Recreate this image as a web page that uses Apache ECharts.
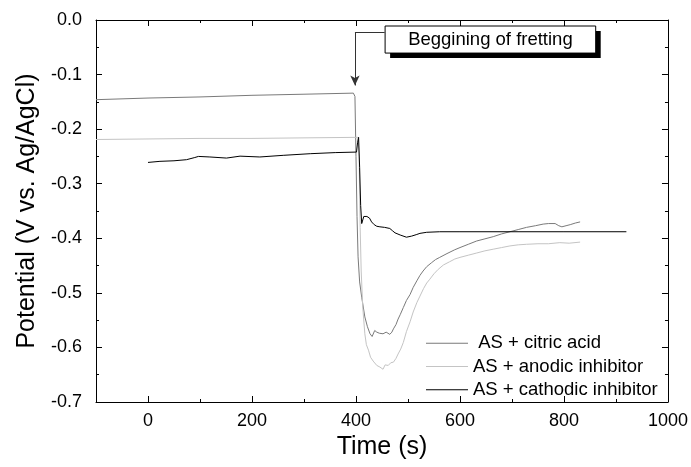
<!DOCTYPE html>
<html>
<head>
<meta charset="utf-8">
<script src="https://cdn.jsdelivr.net/npm/echarts@6/dist/echarts.min.js"></script>
<style>
  html, body { margin: 0; padding: 0; background: #fff; }
  #chart { width: 691px; height: 467px; }
</style>
</head>
<body>
<div id="chart"></div>
<script>
// Open-circuit potential vs. time, before and during fretting
const seriesNames = [' AS + citric acid', 'AS + anodic inhibitor', 'AS + cathodic inhibitor'];

const citricAcid = [
  [-100, -0.146], [0, -0.143], [100, -0.141], [200, -0.138], [300, -0.136], [395, -0.134],
  [398, -0.14], [400, -0.25], [402, -0.36], [404, -0.434], [407, -0.48], [411, -0.508],
  [417, -0.544], [422, -0.562], [427, -0.575], [431, -0.58], [436, -0.569], [440, -0.572],
  [445, -0.574], [452, -0.575], [458, -0.572], [465, -0.576], [469, -0.572], [472, -0.566],
  [477, -0.558], [481, -0.548], [485, -0.54], [491, -0.527], [497, -0.514], [504, -0.503],
  [510, -0.49], [517, -0.478], [523, -0.468], [529, -0.46], [536, -0.452], [545, -0.445],
  [553, -0.439], [561, -0.435], [575, -0.428], [590, -0.421], [600, -0.417], [616, -0.411],
  [632, -0.405], [648, -0.401], [664, -0.397], [680, -0.392], [696, -0.388], [712, -0.384],
  [728, -0.38], [745, -0.377], [760, -0.374], [770, -0.373], [783, -0.373], [790, -0.377],
  [796, -0.379], [804, -0.377], [812, -0.375], [822, -0.372], [831, -0.37]
];

const anodicInhibitor = [
  [-100, -0.219], [0, -0.218], [100, -0.217], [200, -0.217], [300, -0.216], [404, -0.215],
  [406, -0.25], [408, -0.38], [410, -0.46], [413, -0.526], [417, -0.575], [420, -0.595],
  [424, -0.605], [428, -0.618], [433, -0.625], [440, -0.633], [446, -0.636], [452, -0.64],
  [456, -0.632], [462, -0.633], [467, -0.628], [472, -0.627], [477, -0.62], [481, -0.612],
  [486, -0.603], [491, -0.591], [497, -0.571], [504, -0.553], [510, -0.535], [517, -0.518],
  [523, -0.506], [530, -0.492], [536, -0.482], [542, -0.475], [550, -0.465], [558, -0.457],
  [568, -0.449], [580, -0.443], [590, -0.438], [600, -0.435], [616, -0.431], [632, -0.427],
  [648, -0.423], [664, -0.42], [680, -0.417], [696, -0.414], [712, -0.412], [728, -0.411],
  [750, -0.41], [770, -0.41], [792, -0.408], [810, -0.409], [831, -0.407]
];

const cathodicInhibitor = [
  [0, -0.261], [23, -0.259], [50, -0.258], [74, -0.256], [90, -0.252], [97, -0.25],
  [119, -0.251], [151, -0.253], [177, -0.2495], [215, -0.251], [260, -0.248], [312, -0.245],
  [360, -0.243], [401, -0.242], [403, -0.225], [405, -0.215], [407, -0.27], [409, -0.34],
  [411, -0.373], [413, -0.37], [415, -0.36], [417, -0.361], [421, -0.36], [426, -0.363],
  [430, -0.37], [435, -0.375], [440, -0.378], [446, -0.379], [455, -0.38], [465, -0.382],
  [470, -0.386], [475, -0.39], [485, -0.394], [497, -0.398], [507, -0.396], [517, -0.393],
  [523, -0.391], [536, -0.389], [561, -0.388], [600, -0.388], [700, -0.388], [800, -0.388],
  [920, -0.388]
];

const xMajorTicks = [0, 200, 400, 600, 800, 1000];
const xMinorTicks = [-100, 100, 300, 500, 700, 900];
const annotationText = 'Beggining of fretting';
const frettingStart = 398;

const FONT = '"Liberation Sans", Arial, sans-serif';
const black = '#000';

function xAxisLayer(position, tickValues, tickLength, withLine, withLabels) {
  const ax = {
    type: 'value', min: -100, max: 1000, position: position,
    axisLine: { show: withLine, onZero: false, lineStyle: { color: black, width: 1 } },
    axisTick: { show: true, inside: true, length: tickLength, customValues: tickValues,
                lineStyle: { color: black, width: 1 } },
    axisLabel: { show: false },
    splitLine: { show: false }
  };
  if (withLabels) {
    ax.axisLabel = { show: true, customValues: tickValues, fontSize: 18, color: black,
                     fontFamily: FONT, margin: 10, formatter: v => String(v) };
    ax.name = 'Time (s)';
    ax.nameLocation = 'middle';
    ax.nameGap = 31;
    ax.nameTextStyle = { fontSize: 25, color: black, fontFamily: FONT };
  }
  return ax;
}

function yAxisLayer(position, withLabels) {
  const ax = {
    type: 'value', min: -0.7, max: 0, interval: 0.1, position: position,
    axisLine: { show: true, onZero: false, lineStyle: { color: black, width: 1 } },
    axisTick: { show: true, inside: true, length: 6, lineStyle: { color: black, width: 1 } },
    minorTick: { show: true, splitNumber: 2, length: 3, lineStyle: { color: black, width: 1 } },
    axisLabel: { show: false },
    splitLine: { show: false },
    minorSplitLine: { show: false }
  };
  if (withLabels) {
    ax.axisLabel = { show: true, fontSize: 18, color: black, fontFamily: FONT, margin: 14,
                     formatter: v => (Math.abs(v) < 1e-9 ? 0 : v).toFixed(1) };
    ax.name = 'Potential (V vs. Ag/AgCl)';
    ax.nameLocation = 'middle';
    ax.nameGap = 56;
    ax.nameTextStyle = { fontSize: 25, color: black, fontFamily: FONT };
  }
  return ax;
}

function lineSeries(name, data, color) {
  return {
    name: name, type: 'line', data: data, xAxisIndex: 0, yAxisIndex: 0,
    symbol: 'none', showSymbol: false, smooth: false,
    lineStyle: { color: color, width: 1 }, itemStyle: { color: color },
    emphasis: { disabled: true }
  };
}

const chart = echarts.init(document.getElementById('chart'), null, { renderer: 'canvas' });

const citric = lineSeries(seriesNames[0], citricAcid, '#7a7a7a');
citric.markLine = {
  silent: true, animation: false,
  label: { show: false },
  lineStyle: { color: '#333', width: 1, type: 'solid' },
  symbol: ['none', 'none'],
  data: [
    [{ coord: [frettingStart, -0.022] }, { coord: [455, -0.022] }],
    [{ coord: [frettingStart, -0.022], symbol: 'none' },
     { coord: [frettingStart, -0.12], symbol: 'arrow', symbolSize: [7, 10] }]
  ]
};

chart.setOption({
  animation: false,
  backgroundColor: '#fff',
  grid: { left: 96, right: 23, top: 20, bottom: 65 },
  xAxis: [
    xAxisLayer('bottom', xMajorTicks, 6, true, true),
    xAxisLayer('bottom', xMinorTicks, 3, false, false),
    xAxisLayer('top', xMajorTicks, 6, true, false),
    xAxisLayer('top', xMinorTicks, 3, false, false)
  ],
  yAxis: [yAxisLayer('left', true), yAxisLayer('right', false)],
  legend: {
    orient: 'vertical', left: 421, top: 328,
    icon: 'rect', itemWidth: 42, itemHeight: 1, itemGap: 3,
    selectedMode: false,
    textStyle: { fontSize: 18.5, color: black, fontFamily: FONT, lineHeight: 20.3 },
    data: seriesNames
  },
  series: [
    citric,
    lineSeries(seriesNames[1], anodicInhibitor, '#c4c4c4'),
    lineSeries(seriesNames[2], cathodicInhibitor, '#000000')
  ]
});

// Annotation box with a drop shadow, anchored in data space
const boxTL = chart.convertToPixel({ xAxisIndex: 0, yAxisIndex: 0 }, [456, -0.011]);
const boxBR = chart.convertToPixel({ xAxisIndex: 0, yAxisIndex: 0 }, [861, -0.0606]);
const bw = boxBR[0] - boxTL[0];
const bh = boxBR[1] - boxTL[1];
chart.setOption({
  graphic: [
    { type: 'rect', silent: true, z: 100,
      shape: { x: boxTL[0] + 5, y: boxTL[1] + 5, width: bw, height: bh },
      style: { fill: '#000' } },
    { type: 'rect', silent: true, z: 101,
      shape: { x: boxTL[0], y: boxTL[1], width: bw, height: bh },
      style: { fill: '#fff', stroke: '#000', lineWidth: 1 } },
    { type: 'text', silent: true, z: 102,
      x: boxTL[0] + bw / 2, y: boxTL[1] + bh / 2,
      style: { text: annotationText, fontSize: 18.5, fontFamily: FONT, fill: '#000',
               align: 'center', verticalAlign: 'middle' } }
  ]
});
</script>
</body>
</html>
